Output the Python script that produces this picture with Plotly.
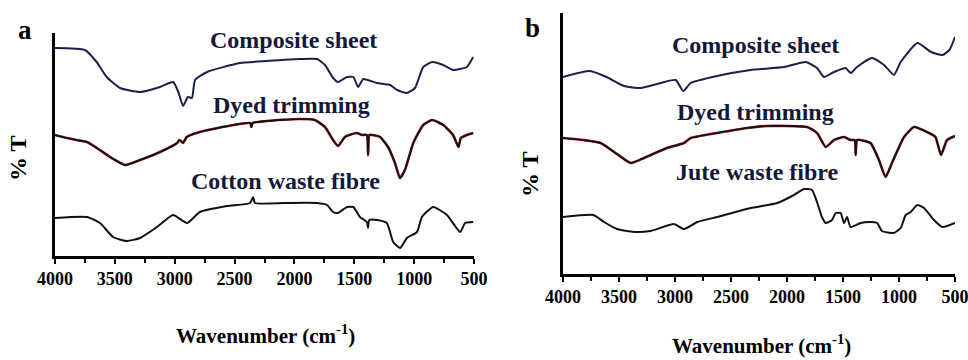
import plotly.graph_objects as go

# ---------------- data (arbitrary %T units, offset spectra) ----------------
# Panel a
a_comp_wn = [4000, 3750, 3652, 3568, 3457, 3290, 3123, 3013, 2970, 2930, 2890, 2856, 2830, 2730, 2455, 2230, 1954, 1811, 1745, 1677, 1636, 1560, 1508, 1468, 1424, 1310, 1200, 1143, 1060, 993, 924, 850, 757, 675, 560, 507]
a_comp_t = [208, 206, 194, 179, 168, 164, 169, 174, 164, 150, 159, 158, 176, 184, 193, 195, 197, 197, 191, 178, 174, 179, 179, 169, 177, 173, 171, 166, 163, 168, 189, 194, 191, 186, 189, 199]

a_dyed_wn = [4000, 3900, 3820, 3733, 3650, 3540, 3415, 3290, 3123, 2980, 2960, 2930, 2900, 2790, 2510, 2370, 2360, 2350, 2230, 1954, 1830, 1745, 1677, 1636, 1578, 1480, 1436, 1395, 1385, 1375, 1350, 1285, 1218, 1160, 1118, 1077, 1007, 924, 850, 757, 675, 630, 610, 560, 507]
a_dyed_t = [121, 118, 116, 114, 108, 99, 91, 96, 104, 113, 116, 113, 119, 124, 131, 133, 129, 133, 135, 137, 136, 129, 116, 110, 119, 123, 121, 121, 101, 121, 121, 119, 109, 93, 78, 86, 113, 131, 136, 131, 121, 109, 118, 121, 123]

a_cot_wn = [4000, 3733, 3624, 3515, 3400, 3290, 3148, 3013, 2897, 2790, 2563, 2370, 2345, 2330, 2095, 1811, 1728, 1677, 1636, 1560, 1508, 1453, 1395, 1385, 1375, 1310, 1228, 1175, 1118, 1060, 976, 935, 841, 726, 616, 574, 507]
a_cot_t = [38, 39, 33, 19, 15, 18, 29, 41, 33, 44, 50, 53, 59, 53, 53, 53, 51, 44, 43, 49, 49, 39, 34, 28, 36, 36, 33, 14, 8, 18, 24, 39, 49, 41, 24, 33, 34]

# Panel b
b_comp_wn = [4000, 3760, 3610, 3455, 3306, 3128, 2994, 2926, 2860, 2625, 2325, 2027, 1833, 1732, 1670, 1580, 1477, 1432, 1375, 1241, 1134, 1045, 985, 836, 714, 612, 550, 500]
b_comp_t = [197, 203, 197, 188, 186, 191, 194, 183, 191, 198, 204, 207, 212, 206, 197, 202, 206, 201, 207, 216, 209, 199, 212, 231, 222, 219, 224, 237]

b_dyed_wn = [4000, 3820, 3665, 3518, 3396, 3277, 3072, 2920, 2860, 2625, 2357, 2179, 1821, 1732, 1654, 1580, 1491, 1432, 1395, 1387, 1375, 1343, 1254, 1179, 1120, 1063, 955, 866, 750, 675, 625, 571, 500]
b_dyed_t = [136, 134, 131, 120, 111, 116, 126, 131, 136, 141, 146, 148, 147, 141, 127, 134, 137, 134, 134, 119, 134, 134, 131, 114, 97, 111, 137, 147, 142, 137, 119, 134, 138]

b_jute_wn = [4000, 3730, 3634, 3518, 3366, 3217, 3009, 2920, 2800, 2625, 2325, 2087, 1938, 1848, 1777, 1732, 1688, 1654, 1598, 1565, 1521, 1491, 1464, 1432, 1343, 1254, 1195, 1152, 1045, 985, 940, 895, 836, 777, 688, 612, 500]
b_jute_t = [57, 59, 52, 45, 42, 43, 50, 45, 52, 57, 66, 71, 79, 85, 84, 72, 57, 51, 54, 61, 61, 51, 57, 47, 51, 52, 51, 43, 41, 46, 59, 62, 69, 66, 54, 47, 51]

x_ticks = [4000, 3500, 3000, 2500, 2000, 1500, 1000, 500]
labels_a = ["Composite sheet", "Dyed trimming", "Cotton waste fibre"]
labels_b = ["Composite sheet", "Dyed trimming", "Jute waste fibre"]

# ---------------- figure ----------------
W, H = 968, 360
NAVY = "#1c1f4a"
RED = "#9a1818"
BLACK = "#111111"
FONT = "Liberation Serif"

fig = go.Figure()

def add_line(x, y, xa, ya, color, width=2.0):
    fig.add_trace(go.Scatter(x=x, y=y, xaxis=xa, yaxis=ya, mode="lines",
                             line=dict(color=color, width=width, shape="spline", smoothing=0.5),
                             showlegend=False, hoverinfo="skip"))

add_line(a_comp_wn, a_comp_t, "x", "y", NAVY)
add_line(a_dyed_wn, a_dyed_t, "x", "y", RED, 2.6)
add_line(a_dyed_wn, a_dyed_t, "x", "y", BLACK, 1.7)
add_line(a_cot_wn, a_cot_t, "x", "y", BLACK)

add_line(b_comp_wn, b_comp_t, "x2", "y2", NAVY)
add_line(b_dyed_wn, b_dyed_t, "x2", "y2", RED, 2.6)
add_line(b_dyed_wn, b_dyed_t, "x2", "y2", BLACK, 1.7)
add_line(b_jute_wn, b_jute_t, "x2", "y2", BLACK)

def px(x):
    return x / W

def py(y):
    return 1 - y / H

xaxis_common = dict(range=[4000, 500], tickvals=x_ticks, ticks="outside", ticklen=5, tickwidth=2,
                    tickcolor="black", showline=True, linecolor="black", linewidth=2.5,
                    showgrid=False, zeroline=False, automargin=False, ticklabeloverflow="allow",
                    minor=dict(dtick=250, ticks="outside", ticklen=4, tickwidth=2, tickcolor="black", showgrid=False),
                    tickfont=dict(family=FONT, size=18, color="black", weight="bold"))
yaxis_common = dict(showline=True, linecolor="black", linewidth=2.5, showticklabels=False,
                    ticks="", showgrid=False, zeroline=False, automargin=False)

fig.update_layout(
    width=W, height=H, margin=dict(l=0, r=0, t=0, b=0, autoexpand=False),
    paper_bgcolor="white", plot_bgcolor="white",
    xaxis=dict(domain=[px(55), px(474)], anchor="y", **xaxis_common),
    yaxis=dict(domain=[py(256), py(33)], range=[0, 223], anchor="x", **yaxis_common),
    xaxis2=dict(domain=[px(563), px(955)], anchor="y2", **xaxis_common),
    yaxis2=dict(domain=[py(274), py(13)], range=[0, 261], anchor="x2", **yaxis_common),
)

anns = []
def txt(x, y, s, size, color="black", bold=True, angle=0, yanchor="middle"):
    anns.append(dict(x=px(x), y=py(y), xref="paper", yref="paper", text=s, showarrow=False,
                     xanchor="center", yanchor=yanchor, textangle=angle,
                     font=dict(family=FONT, size=size, color=color, weight="bold" if bold else "normal")))

label_col = "#15183a"
txt(293, 40, labels_a[0], 24, label_col)
txt(291, 105, labels_a[1], 24, label_col)
txt(285, 181, labels_a[2], 24, label_col)
txt(755, 45, labels_b[0], 24, label_col)
txt(755, 112, labels_b[1], 24, label_col)
txt(757, 172, labels_b[2], 24, label_col)

txt(25, 30, "a", 27)
txt(532, 28, "b", 27)
txt(18, 158, "% T", 24, angle=-90)
txt(530, 174, "% T", 24, angle=-90)
txt(265, 350, "Wavenumber (cm<sup>-1</sup>)", 21, yanchor="bottom")
txt(761, 360, "Wavenumber (cm<sup>-1</sup>)", 21, yanchor="bottom")

fig.update_layout(annotations=anns)
fig.write_html("out.html")
